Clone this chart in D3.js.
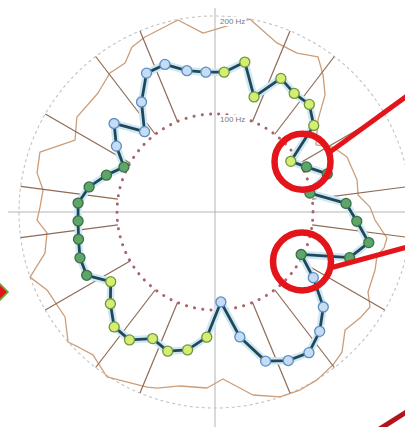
<!DOCTYPE html>
<html>
<head>
<meta charset="utf-8">
<script src="https://cdn.jsdelivr.net/npm/d3@7"></script>
<style>
  html, body { margin: 0; padding: 0; background: #fff; }
  svg { display: block; }
</style>
</head>
<body>
<svg id="chart" width="405" height="427"></svg>
<script>
// Measured frequency, one reading every 7.5 degrees (0 = top, clockwise)
const pointAngles = [
  3.75, 11.25, 18.75, 26.25, 33.75, 41.25, 48.75, 56.25,
  63.75, 71.25, 78.75, 86.25, 93.75, 101.25, 108.75, 116.25,
  123.75, 131.25, 138.75, 146.25, 153.75, 161.25, 168.75, 176.25,
  183.75, 191.25, 198.75, 206.25, 213.75, 221.25, 228.75, 236.25,
  243.75, 251.25, 258.75, 266.25, 273.75, 281.25, 288.75, 296.25,
  303.75, 311.25, 318.75, 326.25, 333.75, 341.25, 348.75, 356.25
];
const pointHz = [
  143, 156, 124, 152, 145.5, 146, 134, 93,
  104, 121, 98.7, 134, 145, 160, 145, 98,
  120.6, 147, 162, 172.6, 169, 160.7, 130, 92,
  128, 143.5, 150, 144, 157, 156, 142, 128,
  146, 145.5, 142, 140, 140, 131, 117, 103.6,
  121, 137, 109, 135, 158, 159, 147, 143
];
const pointGroup = [
  "lime", "lime", "lime", "lime", "lime", "lime", "lime", "lime",
  "green", "green", "green", "green", "green", "green", "green", "green",
  "blue", "blue", "blue", "blue", "blue", "blue", "blue", "blue",
  "lime", "lime", "lime", "lime", "lime", "lime", "lime", "lime",
  "green", "green", "green", "green", "green", "green", "green", "green",
  "blue", "blue", "blue", "blue", "blue", "blue", "blue", "blue"
];

// Upper envelope (angle in degrees, frequency in Hz)
const envelopeAngles = [
  10.3, 20.1, 27.3, 33.6, 38.3, 43.2, 48.2, 56.4, 61.2, 67.4,
  77.3, 83.2, 88.2, 92.9, 98.6, 102, 105.2, 109.9, 117.6, 121.5,
  126.2, 132.2, 137.8, 142.4, 148.7, 154.5, 160.6, 168.3, 177.3, 182.6,
  191.4, 198.2, 201.2, 213.2, 220.5, 224.8, 228.5, 235, 245.1, 250.6,
  256.4, 262.9, 267.4, 271.6, 277.3, 282.4, 288.9, 297.2, 304.5, 315.5,
  322.9, 328.9, 333.3, 338.2, 349.1, 356.2
];
const envelopeHz = [
  200, 183.7, 182.5, 190, 178, 164, 141, 123.7, 137.5, 145.9,
  148.6, 147, 158.3, 163.5, 177.5, 176.3, 171.3, 173.7, 176.2, 185.5,
  183.3, 179.2, 192.9, 197.1, 200.5, 201.3, 200.1, 190.7, 170.6, 179.8,
  181.1, 189.1, 191.6, 201.2, 191.8, 195.5, 200.2, 186.8, 189, 200.1,
  178.5, 172.8, 181.8, 178.6, 176.9, 185.9, 188.8, 160.6, 171, 170.3,
  177.8, 177.6, 188.5, 192.3, 199.5, 183
];

// Radial guide spokes and rings
const spokeAngles = [22.5, 37.5, 60, 82.5, 97.5, 120, 142.5, 157.5,
                     202.5, 217.5, 240, 262.5, 277.5, 300, 322.5, 337.5];
const spokeSpan = [100, 200];
const ringHz = [100, 200];
const ringLabels = ["100 Hz", "200 Hz"];

const groupFill = { lime: "#d5ee72", green: "#5da568", blue: "#c4ddf4" };
const groupStroke = { lime: "#6f9541", green: "#3a7047", blue: "#5b8dc3" };

const svg = d3.select("#chart");
const cx = 215, cy = 212;

const r = d3.scaleLinear().domain([0, 200]).range([0, 196]);
const ang = d3.scaleLinear().domain([0, 360]).range([0, 2 * Math.PI]);
const px = (a, v) => r(v) * Math.sin(ang(a));
const py = (a, v) => -r(v) * Math.cos(ang(a));

const g = svg.append("g").attr("transform", `translate(${cx},${cy})`);

// cross axes
g.append("line").attr("x1", 0).attr("x2", 0).attr("y1", -204).attr("y2", 216)
  .attr("stroke", "#b4b4b4").attr("stroke-width", 1);
g.append("line").attr("x1", -207).attr("x2", 192).attr("y1", 0).attr("y2", 0)
  .attr("stroke", "#b4b4b4").attr("stroke-width", 1);

// rings
g.append("circle").attr("r", r(ringHz[1])).attr("fill", "none")
  .attr("stroke", "#c2c2c2").attr("stroke-width", 1.1).attr("stroke-dasharray", "3,3");
g.append("circle").attr("r", r(ringHz[0])).attr("fill", "none")
  .attr("stroke", "#a9636f").attr("stroke-width", 3)
  .attr("stroke-linecap", "round").attr("stroke-dasharray", "0.1,8.2");

// envelope outline
const radial = d3.lineRadial().curve(d3.curveLinearClosed);
const envelope = envelopeAngles.map((a, i) => [ang(a), r(envelopeHz[i])]);
g.append("path").attr("d", radial(envelope)).attr("fill", "none")
  .attr("stroke", "#cc9d78").attr("stroke-width", 1.3).attr("stroke-linejoin", "round");

// spokes
g.selectAll("line.spoke").data(spokeAngles).join("line").attr("class", "spoke")
  .attr("x1", d => px(d, spokeSpan[0])).attr("y1", d => py(d, spokeSpan[0]))
  .attr("x2", d => px(d, spokeSpan[1])).attr("y2", d => py(d, spokeSpan[1]))
  .attr("stroke", "#8e6a55").attr("stroke-width", 1.2);

// ring labels
ringHz.forEach((v, i) => {
  const t = g.append("text").attr("x", 5).attr("y", -r(v) + 8)
    .attr("font-family", "Liberation Sans, Arial, sans-serif").attr("font-size", 8)
    .attr("fill", "#7a7a7a").text(ringLabels[i]);
  const bb = t.node().getBBox();
  g.insert("rect", () => t.node())
    .attr("x", bb.x - 1).attr("y", bb.y).attr("width", bb.width + 2).attr("height", bb.height)
    .attr("fill", "#fff");
});

// measurement trace
const pts = pointAngles.map((a, i) => ({ a, hz: pointHz[i], grp: pointGroup[i] }));
const trace = radial(pts.map(d => [ang(d.a), r(d.hz)]));
g.append("path").attr("d", trace).attr("fill", "none")
  .attr("stroke", "#cfe8f2").attr("stroke-width", 7.5).attr("stroke-linejoin", "round");
g.append("path").attr("d", trace).attr("fill", "none")
  .attr("stroke", "#21485a").attr("stroke-width", 2.8).attr("stroke-linejoin", "round");

g.selectAll("circle.pt").data(pts).join("circle").attr("class", "pt")
  .attr("cx", d => px(d.a, d.hz)).attr("cy", d => py(d.a, d.hz)).attr("r", 5)
  .attr("fill", d => groupFill[d.grp]).attr("stroke", d => groupStroke[d.grp])
  .attr("stroke-width", 1.3);

// callouts
const red = "#e3151b";
svg.append("line").attr("x1", 330).attr("y1", 152).attr("x2", 407).attr("y2", 96)
  .attr("stroke", red).attr("stroke-width", 5);
svg.append("line").attr("x1", 330).attr("y1", 268).attr("x2", 407).attr("y2", 247)
  .attr("stroke", red).attr("stroke-width", 5);
svg.append("circle").attr("cx", 302.5).attr("cy", 161.7).attr("r", 28)
  .attr("fill", "none").attr("stroke", red).attr("stroke-width", 6.5);
svg.append("circle").attr("cx", 302).attr("cy", 261.5).attr("r", 29)
  .attr("fill", "none").attr("stroke", red).attr("stroke-width", 6.5);
svg.append("line").attr("x1", 378).attr("y1", 430).attr("x2", 408).attr("y2", 411)
  .attr("stroke", "#b3141a").attr("stroke-width", 5);
svg.append("polygon").attr("points", "-2,282 8,292 -2,302")
  .attr("fill", "#e3151b").attr("stroke", "#67ad3a").attr("stroke-width", 1.6);
</script>
</body>
</html>
